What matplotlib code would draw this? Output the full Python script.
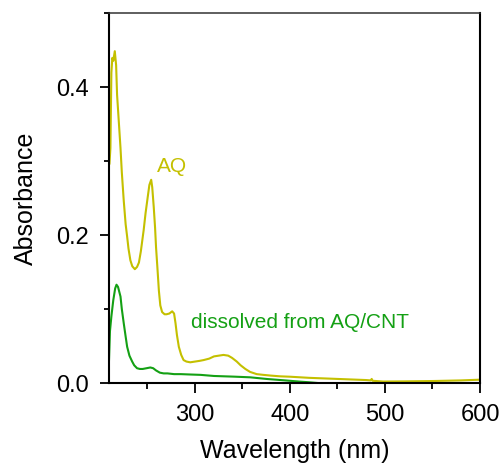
import matplotlib
matplotlib.use("Agg")
import matplotlib.pyplot as plt
from matplotlib.ticker import MultipleLocator, FormatStrFormatter

plt.rcParams['font.family'] = ['Liberation Sans', 'DejaVu Sans']

# UV-vis spectrum of anthraquinone (AQ)
aq_wl = [210, 211, 212, 213, 214, 215.6, 217, 218, 220, 221.6, 223, 225, 227,
         228.6, 230, 232, 234, 236.7, 239, 241, 243, 246, 248, 250.3, 252,
         253.9, 255, 256.6, 258, 259, 260.5, 262, 263.5, 265.4, 268, 270, 273,
         276, 278, 279.5, 281, 283, 285.5, 288, 291, 295, 300, 305, 309, 315,
         320, 325, 330, 335, 339, 344, 348, 353, 358, 365, 372, 380, 390, 400,
         420, 440, 460, 480, 485, 486, 487, 498, 520, 551, 580, 600]
aq_abs = [0.297, 0.318, 0.420, 0.440, 0.436, 0.449, 0.430, 0.390, 0.350,
          0.318, 0.285, 0.247, 0.215, 0.198, 0.182, 0.166, 0.158, 0.154,
          0.157, 0.163, 0.178, 0.207, 0.230, 0.252, 0.268, 0.275, 0.265,
          0.238, 0.210, 0.184, 0.155, 0.125, 0.105, 0.096, 0.093, 0.093,
          0.094, 0.097, 0.094, 0.081, 0.065, 0.049, 0.038, 0.031, 0.029,
          0.028, 0.029, 0.030, 0.031, 0.033, 0.036, 0.037, 0.038, 0.037,
          0.034, 0.029, 0.024, 0.019, 0.015, 0.012, 0.011, 0.010, 0.009,
          0.0085, 0.007, 0.006, 0.005, 0.004, 0.0035, 0.0055, 0.003, 0.002,
          0.0022, 0.0027, 0.0035, 0.0045]

# Species dissolved from the AQ/CNT electrode
cnt_wl = [209.5, 210.5, 212, 214, 216, 217.4, 219, 221.6, 223, 225, 227,
          228.6, 231, 233.9, 236, 239, 242, 245, 249, 253, 256, 259, 263,
          267, 271, 278, 285, 295, 306, 320, 341, 358, 376, 395, 411, 420,
          429, 439, 445]
cnt_abs = [0.031, 0.070, 0.090, 0.112, 0.128, 0.133, 0.130, 0.117, 0.100,
           0.081, 0.063, 0.049, 0.037, 0.029, 0.024, 0.020, 0.019, 0.019,
           0.020, 0.021, 0.020, 0.017, 0.014, 0.013, 0.013, 0.012, 0.012,
           0.0115, 0.011, 0.0095, 0.0086, 0.0077, 0.0054, 0.0035, 0.0018,
           0.001, 0.0, -0.001, -0.002]

x_ticks = [300, 400, 500, 600]
y_ticks = [0.0, 0.2, 0.4]

AQ_COLOR = '#c4c000'
CNT_COLOR = '#14a014'

fig = plt.figure(figsize=(5.04, 4.73), dpi=100)
ax = fig.add_axes([109 / 504, 90 / 473, 371 / 504, 369.5 / 473])

ax.plot(aq_wl, aq_abs, color=AQ_COLOR, lw=1.5)
ax.plot(cnt_wl, cnt_abs, color=CNT_COLOR, lw=1.5)

ax.set_xlim(209.5, 600)
ax.set_ylim(0, 0.5)
ax.set_xticks(x_ticks)
ax.set_yticks(y_ticks)
ax.xaxis.set_minor_locator(MultipleLocator(50))
ax.yaxis.set_minor_locator(MultipleLocator(0.1))
ax.yaxis.set_major_formatter(FormatStrFormatter('%.1f'))

ax.tick_params(which='major', direction='out', length=7.2, width=1.3,
               labelsize=17, pad=8)
ax.tick_params(axis='y', which='major', length=6.5, pad=8)
ax.tick_params(axis='x', which='minor', direction='out', length=4.3, width=1.3)
ax.tick_params(axis='y', which='minor', direction='out', length=3.3, width=1.3)
ax.tick_params(top=False, right=False, which='both')

for side in ['left', 'bottom', 'right']:
    ax.spines[side].set_linewidth(1.5)
ax.spines['top'].set_linewidth(1.1)
ax.spines['top'].set_color('#333333')

ax.set_xlabel('Wavelength (nm)', fontsize=18, labelpad=9)
ax.set_ylabel('Absorbance', fontsize=18, labelpad=13)

ax.text(260.3, 0.2855, 'AQ', color=AQ_COLOR, fontsize=15,
        ha='left', va='baseline')
ax.text(295.5, 0.0739, 'dissolved from AQ/CNT', color=CNT_COLOR, fontsize=15,
        ha='left', va='baseline')

fig.savefig('out.png', dpi=100)
